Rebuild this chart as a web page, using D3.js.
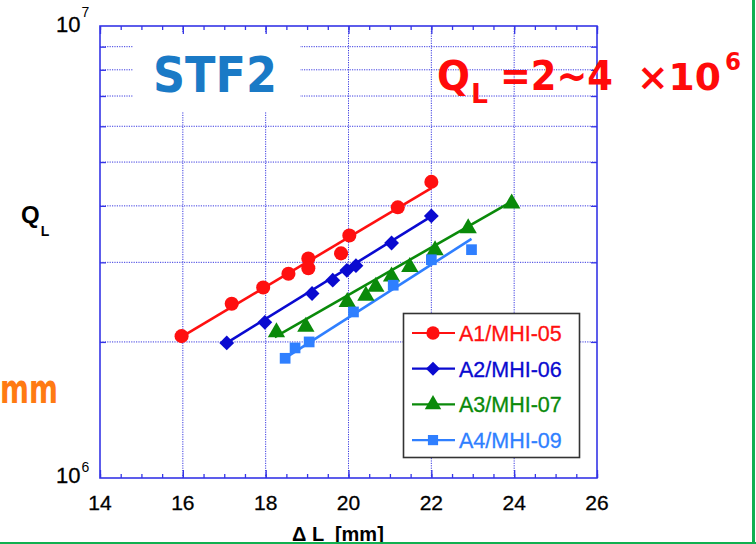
<!DOCTYPE html>
<html><head><meta charset="utf-8">
<script src="https://cdn.jsdelivr.net/npm/d3@7"></script>
<style>
html,body{margin:0;padding:0;background:#fff;}
svg{display:block;}
</style></head>
<body>
<svg id="chart" width="756" height="544"></svg>
<script>
// ---- data ----
const seriesNames = ["A1/MHI-05", "A2/MHI-06", "A3/MHI-07", "A4/MHI-09"];
const seriesColors = ["#ff1010", "#0a0ad0", "#0a8a0a", "#2f7fff"];
const seriesShapes = ["circle", "diamond", "triangle", "square"];

const a1X = [15.97, 17.18, 17.94, 18.55, 19.03, 19.03, 19.82, 20.02, 21.19, 22.0];
const a1Q = [2.06e6, 2.43e6, 2.64e6, 2.83e6, 3.06e6, 2.91e6, 3.14e6, 3.44e6, 3.97e6, 4.52e6];
const a2X = [17.06, 17.98, 19.12, 19.62, 19.96, 20.18, 21.04, 22.0];
const a2Q = [1.99e6, 2.21e6, 2.56e6, 2.74e6, 2.88e6, 2.95e6, 3.31e6, 3.80e6];
const a3X = [18.26, 18.97, 19.97, 20.42, 20.66, 21.04, 21.48, 22.09, 22.89, 23.94];
const a3Q = [2.10e6, 2.16e6, 2.45e6, 2.53e6, 2.65e6, 2.79e6, 2.93e6, 3.19e6, 3.57e6, 4.05e6];
const a4X = [18.47, 18.71, 19.05, 20.12, 21.08, 22.0, 22.97];
const a4Q = [1.84e6, 1.94e6, 2.00e6, 2.33e6, 2.67e6, 3.04e6, 3.20e6];

// fitted lines (start / end)
const fitX = [[16.0, 22.0], [17.06, 22.0], [18.22, 23.94], [18.42, 22.97]];
const fitQ = [[2.06e6, 4.38e6], [1.99e6, 3.79e6], [2.05e6, 4.09e6], [1.83e6, 3.38e6]];

const xTicks = [14, 16, 18, 20, 22, 24, 26];
const xMinor = d3.range(14, 26.01, 0.5);
const yMinor = [2e6, 3e6, 4e6, 5e6, 6e6, 7e6, 8e6, 9e6];
const yLabels = [{base: "10", exp: "6", v: 1e6}, {base: "10", exp: "7", v: 1e7}];

const seriesX = [a1X, a2X, a3X, a4X];
const seriesQ = [a1Q, a2Q, a3Q, a4Q];

// ---- layout ----
const svg = d3.select("#chart");
const L = 100, R = 597, T = 26, B = 478;
const x = d3.scaleLinear().domain([14, 26]).range([L, R]);
const y = d3.scaleLog().domain([1e6, 1e7]).range([B, T]);
const frameColor = "#3535e6";
const gridColor = "#3a3ae0";

// gridlines
const grid = svg.append("g");
grid.selectAll("line.v").data(xTicks.slice(1, -1)).join("line")
  .attr("x1", d => x(d)).attr("x2", d => x(d)).attr("y1", T).attr("y2", B)
  .attr("stroke", gridColor).attr("stroke-width", 1).attr("stroke-dasharray", "1.2,1.2");
grid.selectAll("line.h").data(yMinor).join("line")
  .attr("x1", L).attr("x2", R).attr("y1", d => y(d)).attr("y2", d => y(d))
  .attr("stroke", gridColor).attr("stroke-width", 1).attr("stroke-dasharray", "1.2,1.2");

// white box behind STF2
svg.append("rect").attr("x", 133).attr("y", 33).attr("width", 167).attr("height", 79).attr("fill", "#fff");

// ticks via axes
function styleAxis(g) {
  g.select(".domain").remove();
  g.selectAll(".tick line").attr("stroke", frameColor).attr("stroke-width", 1.3);
  g.selectAll("text").remove();
}
svg.append("g").attr("transform", `translate(0,${B})`)
  .call(d3.axisBottom(x).tickValues(xMinor).tickSize(-4).tickFormat("")).call(styleAxis);
svg.append("g").attr("transform", `translate(0,${T})`)
  .call(d3.axisTop(x).tickValues(xMinor).tickSize(-4).tickFormat("")).call(styleAxis);
svg.append("g").attr("transform", `translate(0,${B})`)
  .call(d3.axisBottom(x).tickValues(xTicks).tickSize(-8).tickFormat("")).call(styleAxis);
svg.append("g").attr("transform", `translate(0,${T})`)
  .call(d3.axisTop(x).tickValues(xTicks).tickSize(-8).tickFormat("")).call(styleAxis);
svg.append("g").attr("transform", `translate(${L},0)`)
  .call(d3.axisLeft(y).tickValues(yMinor).tickSize(-6).tickFormat("")).call(styleAxis);
svg.append("g").attr("transform", `translate(${R},0)`)
  .call(d3.axisRight(y).tickValues(yMinor).tickSize(-6).tickFormat("")).call(styleAxis);

// frame
svg.append("rect").attr("x", L).attr("y", T).attr("width", R - L).attr("height", B - T)
  .attr("fill", "none").attr("stroke", frameColor).attr("stroke-width", 1.6);

// x tick labels
svg.append("g").selectAll("text").data(xTicks).join("text")
  .attr("x", d => x(d)).attr("y", 510).attr("text-anchor", "middle")
  .attr("font-family", "Liberation Sans, Arial, sans-serif").attr("font-size", 21)
  .attr("fill", "#000").attr("stroke", "#000").attr("stroke-width", 0.3).text(d => d);

// y labels (10^n)
svg.append("g").selectAll("text").data(yLabels).join("text")
  .attr("x", 56).attr("y", d => y(d.v) + (d.v === 1e6 ? 5 : 6))
  .attr("font-family", "Liberation Sans, Arial, sans-serif").attr("fill", "#000")
  .each(function(d) {
    const t = d3.select(this);
    t.append("tspan").attr("font-size", 22).attr("stroke", "#000").attr("stroke-width", 0.3).text(d.base);
    t.append("tspan").attr("font-size", 14).attr("dx", 1).attr("dy", d.v === 1e6 ? -11 : -15).text(d.exp);
  });

// axis titles
const qt = svg.append("text").attr("x", 21).attr("y", 223)
  .attr("font-family", "Liberation Sans, Arial, sans-serif").attr("font-weight", "bold").attr("fill", "#000");
qt.append("tspan").attr("font-size", 24).text("Q");
qt.append("tspan").attr("font-size", 14).attr("dy", 13).attr("dx", 1).text("L");

svg.append("text").attr("x", 292).attr("y", 541)
  .attr("font-family", "Liberation Sans, Arial, sans-serif").attr("font-weight", "bold").attr("font-size", 20)
  .attr("fill", "#000").attr("xml:space", "preserve").text("\u0394 L  [mm]");

// fit lines
const lineGen = d3.line().x(d => x(d[0])).y(d => y(d[1]));
seriesNames.forEach((n, i) => {
  svg.append("path").datum(fitX[i].map((v, j) => [v, fitQ[i][j]]))
    .attr("d", lineGen).attr("fill", "none").attr("stroke", seriesColors[i]).attr("stroke-width", 2.6);
});

// markers
const symType = {circle: d3.symbolCircle, diamond: d3.symbolSquare, triangle: d3.symbolTriangle, square: d3.symbolSquare};
const symSize = {circle: 155, diamond: 110, triangle: 130, square: 115};
function marker(g, shape, color, cx, cy, scale) {
  g.append("path").attr("d", d3.symbol().type(symType[shape]).size(symSize[shape] * (scale || 1))())
    .attr("transform", `translate(${cx},${cy})` + (shape === "diamond" ? " rotate(45)" : ""))
    .attr("fill", color);
}
seriesNames.forEach((n, i) => {
  const g = svg.append("g");
  seriesX[i].forEach((v, j) => marker(g, seriesShapes[i], seriesColors[i], x(v), y(seriesQ[i][j])));
});

// legend
const lg = svg.append("g");
lg.append("rect").attr("x", 403.5).attr("y", 313.5).attr("width", 176).attr("height", 144)
  .attr("fill", "#fff").attr("stroke", "#333").attr("stroke-width", 1.6);
seriesNames.forEach((n, i) => {
  const cy = 333 + i * 35.7;
  lg.append("line").attr("x1", 412).attr("x2", 455).attr("y1", cy).attr("y2", cy)
    .attr("stroke", seriesColors[i]).attr("stroke-width", 2.2);
  marker(lg, seriesShapes[i], seriesColors[i], 433, cy, 0.9);
  lg.append("text").attr("x", 459).attr("y", cy + 8)
    .attr("font-family", "Liberation Sans, Arial, sans-serif").attr("font-size", 21.5)
    .attr("fill", seriesColors[i]).attr("stroke", seriesColors[i]).attr("stroke-width", 0.3).text(n);
});

// annotations
svg.append("text").attr("x", 153).attr("y", 92).attr("textLength", 124).attr("lengthAdjust", "spacingAndGlyphs")
  .attr("font-family", "DejaVu Sans, sans-serif").attr("font-weight", "bold").attr("font-size", 50)
  .attr("fill", "#1a7ac6").text("STF2");

const red = "#ff0a0a";
const rt = svg.append("text").attr("font-family", "DejaVu Sans, sans-serif").attr("font-weight", "bold")
  .attr("fill", red);
rt.append("tspan").attr("x", 437).attr("y", 90).attr("font-size", 40).attr("textLength", 33).attr("lengthAdjust", "spacingAndGlyphs").text("Q");
rt.append("tspan").attr("x", 471).attr("y", 103).attr("font-size", 26).attr("textLength", 17).attr("lengthAdjust", "spacingAndGlyphs").text("L");
rt.append("tspan").attr("x", 500).attr("y", 90).attr("font-size", 40).attr("textLength", 113).attr("lengthAdjust", "spacingAndGlyphs").text("=2~4");
rt.append("tspan").attr("x", 637).attr("y", 90).attr("font-size", 37).attr("textLength", 84).attr("lengthAdjust", "spacingAndGlyphs").text("\u00d710");
rt.append("tspan").attr("x", 725).attr("y", 70).attr("font-size", 24).attr("textLength", 16).attr("lengthAdjust", "spacingAndGlyphs").text("6");

svg.append("text").attr("x", 0).attr("y", 403).attr("textLength", 58).attr("lengthAdjust", "spacingAndGlyphs")
  .attr("font-family", "DejaVu Sans, sans-serif").attr("font-weight", "bold").attr("font-size", 40)
  .attr("fill", "#ff7a12").text("mm");

// slide frame (green)
svg.append("rect").attr("x", 752).attr("y", 0).attr("width", 3).attr("height", 544).attr("fill", "#10b050");
svg.append("rect").attr("x", 0).attr("y", 542).attr("width", 756).attr("height", 2).attr("fill", "#10b050");
</script>
</body></html>
